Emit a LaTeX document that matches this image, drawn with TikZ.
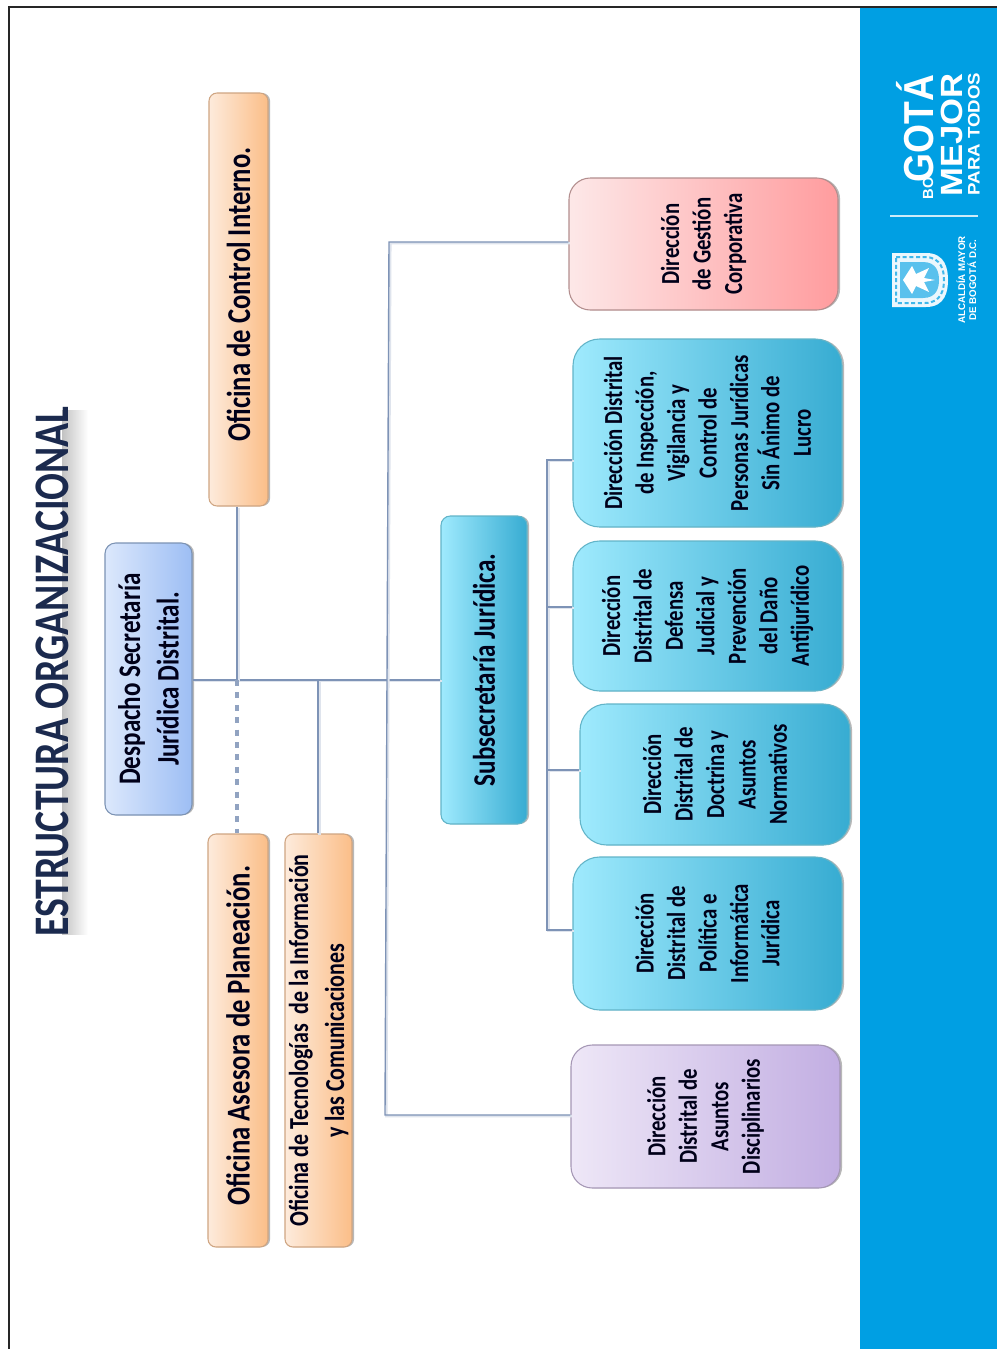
\documentclass[tikz,border=0pt]{standalone}
\usepackage{fontspec}
\usetikzlibrary{shadows,calc}
\newfontfamily\cf[FakeStretch=0.8]{Carlito}
\newfontfamily\lgf{Liberation Sans}
\newfontfamily\lgn[FakeStretch=0.89]{Liberation Sans}
\newfontfamily\lgm[FakeStretch=1.13]{Liberation Sans}
\newfontfamily\lgw[FakeStretch=1.12]{Liberation Sans}
\definecolor{Oa}{HTML}{FDEBDC}\definecolor{Ob}{HTML}{FBBE88}\definecolor{Od}{HTML}{CFA582}
\definecolor{Ba}{HTML}{DCE8FC}\definecolor{Bb}{HTML}{9DBEF4}\definecolor{Bd}{HTML}{7C93B4}
\definecolor{Ca}{HTML}{9FEAFD}\definecolor{Cb}{HTML}{37ACD2}\definecolor{Cd}{HTML}{62B4C8}
\definecolor{Pa}{HTML}{FDE8E8}\definecolor{Pb}{HTML}{FF9C9E}\definecolor{Pd}{HTML}{B38E8E}
\definecolor{Va}{HTML}{EEE7F7}\definecolor{Vb}{HTML}{C2AEE2}\definecolor{Vd}{HTML}{A597B5}
\definecolor{Ln}{HTML}{7E93B6}\definecolor{Band}{HTML}{009FE3}\definecolor{Navy}{HTML}{1B2A4E}
\tikzset{
  x=0.75pt,y=-0.75pt,
  box/.style={rotate=90,inner sep=0pt,align=center,text=black!90!blue,font=\cf\bfseries,
     drop shadow={shadow xshift=1.6pt,shadow yshift=0pt,opacity=.28,fill=black}},
  orangebox/.style={box,rounded corners=6pt,draw=Od,line width=.8pt,left color=Oa,right color=Ob},
  despacho/.style={box,rounded corners=8pt,draw=Bd,line width=.8pt,left color=Ba,right color=Bb},
  cyansub/.style={box,rounded corners=7pt,draw=Cd,line width=.8pt,left color=Ca,right color=Cb},
  cyanbig/.style={box,rounded corners=20pt,draw=Cd,line width=.8pt,left color=Ca,right color=Cb},
  pinkbig/.style={box,rounded corners=16pt,draw=Pd,line width=.8pt,left color=Pa,right color=Pb},
  violetbig/.style={box,rounded corners=16pt,draw=Vd,line width=.8pt,left color=Va,right color=Vb},
  link/.style={draw=Ln,line width=1.05pt,preaction={draw=Ln!25,line width=1.8pt,transform canvas={xshift=1pt,yshift=-.8pt}}},
  dashlink/.style={draw=Ln!85,line width=3pt,dash pattern=on 4.5pt off 4.8pt},
  logotext/.style={rotate=90,text=white,inner sep=0pt,anchor=base},
  bigtxt/.style={font=\fontsize{25}{30}\selectfont\cf\bfseries},
  midtxt/.style={font=\fontsize{23.5}{29}\selectfont\cf\bfseries},
  smalltxt/.style={font=\fontsize{19.5}{23.6}\selectfont\cf\bfseries},
}
\begin{document}
\begin{tikzpicture}
\useasboundingbox (0,0) rectangle (997,1349);
\fill[white] (0,0) rectangle (997,1349);
\fill[Band] (860,8) rectangle (997,1349);
\draw[black!85,line width=1.8pt] (9,1349) -- (9,7) -- (997,7);
% title shadow
\shade[left color=black!24,right color=white] (62,410) rectangle (88,934);
\node[rotate=90,anchor=base,text=Navy,font=\fontsize{37.3}{40}\selectfont\cf\bfseries,inner sep=0pt] (title) at (68,671.5) {ESTRUCTURA ORGANIZACIONAL};

% named junctions
\coordinate (hub) at (237,680);
\coordinate (tic) at (318,680);
\coordinate (tA) at (389,242);
\coordinate (tB) at (385,1115);

\node[orangebox,bigtxt,minimum width=413*0.75pt,minimum height=59*0.75pt] (ctrl) at (238.5,299.5) {\hspace*{7.5pt}Oficina de Control Interno.};
\node[orangebox,bigtxt,minimum width=413*0.75pt,minimum height=60*0.75pt] (ases) at (238,1040.5) {\hspace*{7.5pt}Oficina Asesora de Planeación.};
\node[orangebox,font=\fontsize{20.6}{27}\selectfont\cf\bfseries,minimum width=413*0.75pt,minimum height=67*0.75pt] (otic) at (318.5,1040.5) {Oficina de Tecnologías\ \ de la Información\\y las Comunicaciones};
\node[despacho,midtxt,minimum width=272*0.75pt,minimum height=87*0.75pt] (desp) at (148.5,679) {Despacho Secretaría\\Jurídica Distrital.};
\node[cyansub,midtxt,minimum width=308*0.75pt,minimum height=86*0.75pt] (sub) at (484,670) {Subsecretaría Jurídica.};
\node[pinkbig,smalltxt,minimum width=132*0.75pt,minimum height=269*0.75pt] (gest) at (703.5,244) {Dirección\\de Gestión\\Corporativa};
\node[cyanbig,smalltxt,minimum width=188*0.75pt,minimum height=269*0.75pt] (insp) at (707.5,433) {Dirección Distrital\\de Inspección,\\Vigilancia y\\Control de\\Personas Jurídicas\\Sin Ánimo de\\Lucro};
\node[cyanbig,smalltxt,minimum width=150*0.75pt,minimum height=269*0.75pt] (defe) at (707.5,616) {Dirección\\Distrital de\\Defensa\\Judicial y\\Prevención\\del Daño\\Antijurídico};
\node[cyanbig,smalltxt,minimum width=141*0.75pt,minimum height=270*0.75pt] (doct) at (715,774.5) {Dirección\\Distrital de\\Doctrina y\\Asuntos\\Normativos};
\node[cyanbig,smalltxt,minimum width=153*0.75pt,minimum height=269*0.75pt] (poli) at (707.5,933.5) {Dirección\\Distrital de\\Política e\\Informática\\Jurídica};
\node[violetbig,smalltxt,minimum width=143*0.75pt,minimum height=269*0.75pt] (disc) at (705.5,1116.5) {Dirección\\Distrital de\\Asuntos\\Disciplinarios};

% connectors
\draw[link] (desp.south |- hub) -- (sub.north |- hub);
\draw[link] (hub |- ctrl.west) -- (hub);
\draw[dashlink] (hub) -- (hub |- ases.east);
\draw[link] (tic) -- (tic |- otic.east);
\draw[link] (gest.north |- tA) -- (tA) -- (tB) -- (disc.north |- tB);
\draw[link] (insp.north |- 0,460) -- (547,460) -- (547,930) -- (poli.north |- 0,930);
\draw[link] (547,607) -- (defe.north |- 0,607);
\draw[link] (547,770) -- (doct.north |- 0,770);

% logo
\draw[white!80!Band,line width=1pt] (890,216) -- (978,216);
\node[logotext,font=\fontsize{11}{12}\selectfont\lgf\bfseries] (bo) at (933,188) {BO};
\node[logotext,font=\fontsize{31.4}{33}\selectfont\lgn\bfseries] (go) at (933,128.5) {GOTÁ};
\node[logotext,font=\fontsize{23}{25}\selectfont\lgm\bfseries] (me) at (962,135) {MEJOR};
\node[logotext,font=\fontsize{12.5}{13}\selectfont\lgw\bfseries] (pa) at (979.5,134) {PARA TODOS};
\node[logotext,font=\fontsize{7.3}{8}\selectfont\lgf\bfseries] (al) at (965,280) {ALCALDÍA MAYOR};
\node[logotext,font=\fontsize{7.3}{8}\selectfont\lgf\bfseries] (de) at (976,280) {DE BOGOTÁ D.C.};
% shield
\fill[white!92!Band] (892,253) -- (926,253) .. controls (946,253) and (948,270) .. (948,280) .. controls (948,290) and (946,307) .. (926,307) -- (892,307) -- cycle;
\draw[Band!75!white,line width=1.5pt,dash pattern=on 3pt off 2pt] (896,257) -- (925,257) .. controls (942,257) and (944,272) .. (944,280) .. controls (944,288) and (942,303) .. (925,303) -- (896,303) -- cycle;
\fill[Band!65!white] (900,262) -- (923,262) .. controls (937,262) and (939,273) .. (939,280) .. controls (939,287) and (937,298) .. (923,298) -- (900,298) -- cycle;
\fill[white] (903,280) -- (912,266) -- (916,274) -- (929,268) -- (924,278) -- (935,280) -- (924,282) -- (929,292) -- (916,286) -- (912,294) -- cycle;
\end{tikzpicture}
\end{document}
